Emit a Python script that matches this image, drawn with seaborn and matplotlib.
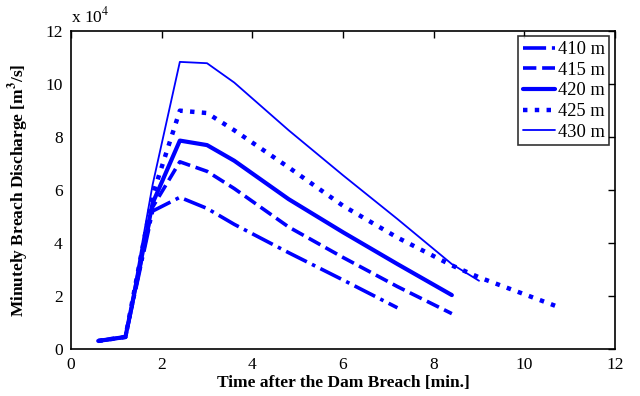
import numpy as np
import pandas as pd
import matplotlib
matplotlib.use("Agg")
import matplotlib.pyplot as plt
import seaborn as sns

# Time after breach [min]
t_410 = [0.6, 1.2, 1.8, 2.4, 3.0, 3.6, 4.8, 6.0, 7.2]
q_410 = [0.3, 0.45, 5.2, 5.72, 5.3, 4.7, 3.63, 2.6, 1.55]
t_415 = [0.6, 1.2, 1.8, 2.4, 3.0, 3.6, 4.8, 6.0, 7.2, 8.4]
q_415 = [0.3, 0.45, 5.35, 7.06, 6.7, 6.05, 4.6, 3.45, 2.35, 1.33]
t_420 = [0.6, 1.2, 1.8, 2.4, 3.0, 3.6, 4.8, 6.0, 7.2, 8.4]
q_420 = [0.3, 0.45, 5.5, 7.86, 7.69, 7.1, 5.65, 4.4, 3.2, 2.03]
t_425 = [0.6, 1.2, 1.8, 2.4, 3.0, 3.6, 4.8, 6.0, 7.2, 8.4, 9.0, 10.8]
q_425 = [0.3, 0.45, 5.8, 8.99, 8.9, 8.25, 6.85, 5.4, 4.2, 3.15, 2.7, 1.55]
t_430 = [0.6, 1.2, 1.8, 2.4, 3.0, 3.6, 4.8, 6.0, 7.2, 8.4, 9.0]
q_430 = [0.3, 0.45, 6.2, 10.83, 10.78, 10.05, 8.25, 6.55, 4.9, 3.2, 2.57]

labels = ["410 m", "415 m", "420 m", "425 m", "430 m"]
xticks = [0, 2, 4, 6, 8, 10, 12]
yticks = [0, 2, 4, 6, 8, 10, 12]

sns.set_theme(style="white")
plt.rcParams["font.family"] = ["Liberation Serif", "DejaVu Serif"]
plt.rcParams["mathtext.fontset"] = "stix"
plt.rcParams["text.color"] = "black"
plt.rcParams["axes.labelcolor"] = "black"
plt.rcParams["xtick.color"] = "black"
plt.rcParams["ytick.color"] = "black"

fig = plt.figure(figsize=(6.4, 3.96), dpi=100)
ax = fig.add_axes([0.111, 0.119, 0.850, 0.803])

series = [
    (t_410, q_410, "-.", 2.6),
    (t_415, q_415, "--", 2.6),
    (t_420, q_420, "-", 3.0),
    (t_425, q_425, ":", 3.2),
    (t_430, q_430, "-", 1.3),
]
for (t, q, ls, lw), lab in zip(series, labels):
    df = pd.DataFrame({"t": t, "q": q})
    sns.lineplot(data=df, x="t", y="q", ax=ax, color="#0000ff", linestyle=ls,
                 linewidth=lw, label=lab, sort=False, estimator=None)

ax.set_xlim(0, 12)
ax.set_ylim(0, 12)
ax.set_xticks(xticks)
ax.set_yticks(yticks)
ax.set_xticklabels([str(v) for v in xticks])
ax.set_yticklabels([str(v) for v in yticks])
ax.tick_params(direction="in", length=5, width=1, top=True, right=True,
               labelsize=12.5, colors="black", labelcolor="black", pad=6)
for s in ax.spines.values():
    s.set_visible(True)
    s.set_color("black")
    s.set_linewidth(1.2)

ax.set_xlabel("Time after the Dam Breach [min.]", fontsize=12.5, fontweight="bold",
              labelpad=1, color="black")
ax.set_ylabel("Minutely Breach Discharge [m$^\\mathbf{3}$/s]", fontsize=12.5,
              fontweight="bold", labelpad=10, color="black")
ax.text(0.0, 1.015, "x 10$^4$", transform=ax.transAxes, fontsize=12.5,
        ha="left", va="bottom", color="black")

leg = ax.legend(loc="upper right", fontsize=13.3, frameon=True, fancybox=False,
                handlelength=1.75, handletextpad=0.15, borderpad=0.25, labelspacing=0.2,
                borderaxespad=0.3)
leg.get_frame().set_edgecolor("black")
leg.get_frame().set_linewidth(1.2)
for txt in leg.get_texts():
    txt.set_color("black")

fig.savefig("out.png", dpi=100)
